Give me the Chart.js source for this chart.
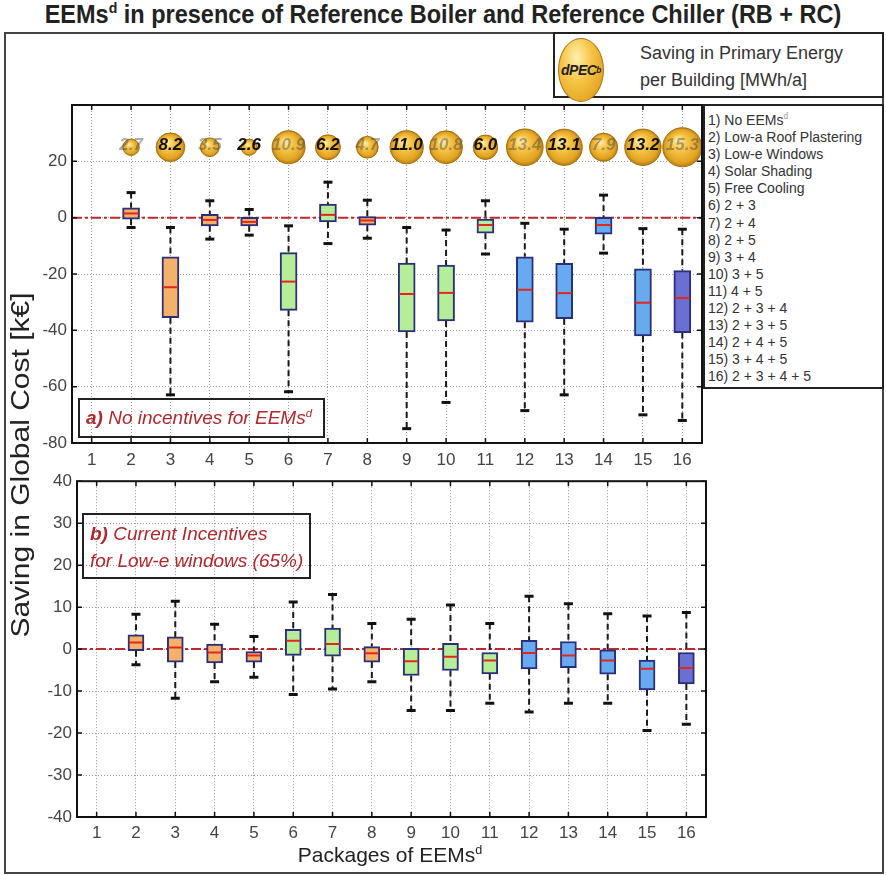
<!DOCTYPE html>
<html>
<head>
<meta charset="utf-8">
<script src="https://cdn.jsdelivr.net/npm/chart.js@4.4.1/dist/chart.umd.min.js"></script>
<style>
  html, body { margin: 0; padding: 0; background: #fff; }
  body { width: 886px; height: 875px; position: relative; overflow: hidden; font-family: 'Liberation Sans', Arial, sans-serif; color: #222; }
  canvas { position: absolute; z-index: 1; }
  .abs { position: absolute; z-index: 2; }
  sup { font-size: 60%; line-height: 0; }
  #title { left: 0; top: 1px; width: 886px; text-align: center; font-weight: bold; font-size: 23.5px; transform: scaleY(1.1); }
  #frame { left: 4px; top: 32px; width: 876px; height: 838px; border: 2px solid #444; z-index: 0; }
  #pecBox { left: 553px; top: 32px; width: 327px; height: 62px; border: 2px solid #222; background: #fff; }
  #pecBubble { position: absolute; left: 3px; top: 4px; width: 44px; height: 62px; border-radius: 50%;
    background: radial-gradient(ellipse at 40% 30%, #fff0b0 0%, #f6c445 40%, #e2a220 80%, #b47c12 100%);
    border: 1px solid #a8760e; font: italic bold 14px 'Liberation Sans', Arial, sans-serif; color: #222;
    display: flex; align-items: center; justify-content: center; letter-spacing: -0.5px; }
  #pecText { position: absolute; left: 85px; top: 6px; font-size: 18px; line-height: 27px; color: #333; }
  #listBox { left: 703px; top: 104px; width: 174px; height: 275px; border: 2px solid #222; background: #fff;
    padding: 6px 0 0 3px; font-size: 14px; line-height: 17.1px; color: #333; white-space: nowrap; overflow: hidden; }
  .note { border: 2px solid #222; color: #b3262b; font-style: italic; font-size: 19px; padding-left: 6px; box-sizing: border-box; }
  #noteA { left: 78px; top: 398px; width: 247px; height: 40px; line-height: 36px; }
  #noteB { left: 82px; top: 513px; width: 229px; height: 66px; line-height: 27px; padding-top: 5px; }
  #yTitle { left: -180px; top: 450px; width: 400px; height: 30px; line-height: 30px; text-align: center; font-size: 25px; color: #222;
    transform: rotate(-90deg) scale(1.2, 1); }
  #xTitle { left: 190px; top: 843px; width: 400px; text-align: center; font-size: 21px; color: #222; }
</style>
</head>
<body>
<div class="abs" id="title">EEMs<sup>d</sup> in presence of Reference Boiler and Reference Chiller (RB + RC)</div>
<div class="abs" id="frame"></div>
<div class="abs" id="pecBox"><div id="pecBubble">dPEC<sup>b</sup></div><div id="pecText">Saving in Primary Energy<br>per Building [MWh/a]</div></div>
<div class="abs" id="listBox"></div>
<canvas id="topChart" width="724" height="399" style="left:0;top:84px"></canvas>
<canvas id="bottomChart" width="720" height="409" style="left:0;top:466px"></canvas>
<div class="abs note" id="noteA"><b>a)</b> No incentives for EEMs<sup>d</sup></div>
<div class="abs note" id="noteB"><b>b)</b> Current Incentives<br>for Low-e windows (65%)</div>
<div class="abs" id="yTitle">Saving in Global Cost [k€]</div>
<div class="abs" id="xTitle">Packages of EEMs<sup>d</sup></div>
<script>
// packages of EEMs
const packages = [1, 2, 3, 4, 5, 6, 7, 8, 9, 10, 11, 12, 13, 14, 15, 16];
const packageNames = ['No EEMs', 'Low-a Roof Plastering', 'Low-e Windows', 'Solar Shading', 'Free Cooling',
  '2 + 3', '2 + 4', '2 + 5', '3 + 4', '3 + 5', '4 + 5', '2 + 3 + 4', '2 + 3 + 5', '2 + 4 + 5', '3 + 4 + 5', '2 + 3 + 4 + 5'];

// dPEC - saving in primary energy per building [MWh/a]
const dPEC = [null, 2.7, 8.2, 3.5, 2.6, 10.9, 6.2, 4.7, 11.0, 10.8, 6.0, 13.4, 13.1, 7.9, 13.2, 15.3];

// a) no incentives - saving in global cost [k€]
const aMin = [null, -3.5, -62.9, -7.6, -6.2, -61.8, -9.2, -7.3, -74.9, -65.6, -12.9, -68.5, -62.9, -12.6, -70.0, -72.0];
const aQ1  = [null, -0.5, -35.5, -2.9, -2.9, -32.9, -1.5, -2.7, -40.6, -36.7, -5.5, -37.1, -35.9, -5.9, -42.0, -40.8];
const aMed = [null, 1.5, -24.7, -0.8, -1.5, -22.7, 1.0, -1.0, -27.1, -26.7, -2.6, -25.6, -26.8, -2.6, -30.2, -28.5];
const aQ3  = [null, 3.5, -13.9, 1.2, 0.1, -12.4, 4.8, 0.4, -16.1, -16.8, -0.5, -13.9, -16.2, 0.1, -18.2, -18.8];
const aMax = [null, 8.9, -3.5, 6.0, 2.9, -2.9, 12.6, 6.2, -3.5, -4.4, 6.0, -2.0, -4.1, 8.0, -3.9, -4.1];

// b) current incentives for low-e windows (65%)
const bMin = [null, -3.7, -11.7, -7.8, -6.7, -10.8, -9.5, -7.8, -14.6, -14.6, -12.9, -15.0, -12.9, -12.9, -19.4, -17.9];
const bQ1  = [null, -0.4, -3.1, -3.3, -3.1, -1.5, -1.7, -3.1, -6.3, -5.1, -5.9, -4.7, -4.4, -6.0, -9.7, -8.3];
const bMed = [null, 1.6, 0.4, -0.8, -1.5, 2.0, 1.2, -1.0, -2.9, -1.8, -2.7, -0.9, -1.5, -2.7, -4.7, -4.5];
const bQ3  = [null, 3.4, 2.9, 1.2, -0.6, 4.7, 5.0, 0.6, 0.2, 1.4, -0.8, 2.1, 1.8, -0.2, -2.6, -0.8];
const bMax = [null, 8.3, 11.4, 5.9, 3.0, 11.2, 13.0, 6.1, 7.1, 10.5, 6.1, 12.6, 10.8, 8.4, 7.9, 8.7];

// box colours per package
const ORANGE = '#f5b06a', GREEN = '#b6ee98', BLUE = '#68aaf0', DARK = '#6b6fd0';
const boxFill = [null, ORANGE, ORANGE, ORANGE, ORANGE, GREEN, GREEN, ORANGE, GREEN, GREEN, GREEN, BLUE, BLUE, BLUE, BLUE, DARK];

const FONT = "'Liberation Sans', Arial, sans-serif";
const bubbleLevel = 25; // height of the dPEC row in panel a)

// legend list
document.getElementById('listBox').innerHTML = packageNames
  .map((n, i) => `${packages[i]}) ${n}` + (i === 0 ? '<sup style="color:#999">d</sup>' : ''))
  .join('<br>');

// frame, inward ticks and red dash-dot zero line
const framePlugin = {
  id: 'frame',
  beforeDatasetsDraw(chart) {
    const { ctx, chartArea: a, scales: { y } } = chart;
    const y0 = y.getPixelForValue(0);
    ctx.save();
    ctx.strokeStyle = '#c0282d';
    ctx.lineWidth = 2;
    ctx.setLineDash([10, 3, 3, 3]);
    ctx.beginPath();
    ctx.moveTo(a.left, y0);
    ctx.lineTo(a.right, y0);
    ctx.stroke();
    ctx.restore();
  },
  afterDraw(chart) {
    const { ctx, chartArea: a, scales: { x, y } } = chart;
    ctx.save();
    ctx.strokeStyle = '#111';
    ctx.lineWidth = 1.5;
    ctx.beginPath();
    x.ticks.forEach(t => {
      const px = x.getPixelForValue(t.value);
      ctx.moveTo(px, a.bottom); ctx.lineTo(px, a.bottom - 5);
      ctx.moveTo(px, a.top); ctx.lineTo(px, a.top + 5);
    });
    y.ticks.forEach(t => {
      const py = y.getPixelForValue(t.value);
      ctx.moveTo(a.left, py); ctx.lineTo(a.left + 5, py);
      ctx.moveTo(a.right, py); ctx.lineTo(a.right - 5, py);
    });
    ctx.stroke();
    ctx.lineWidth = 2;
    ctx.strokeRect(a.left, a.top, a.right - a.left, a.bottom - a.top);
    ctx.restore();
  }
};

// dPEC numbers on the bubbles
const bubbleLabels = {
  id: 'bubbleLabels',
  afterDatasetsDraw(chart) {
    const idx = chart.data.datasets.findIndex(d => d.type === 'bubble');
    if (idx < 0) return;
    const meta = chart.getDatasetMeta(idx);
    const ctx = chart.ctx;
    ctx.save();
    ctx.font = `italic bold 17px ${FONT}`;
    ctx.textAlign = 'center';
    ctx.textBaseline = 'middle';
    meta.data.forEach((el, i) => {
      ctx.fillStyle = i % 2 === 0 ? 'rgba(70,70,70,0.45)' : '#111';
      ctx.fillText(chart.data.datasets[idx].data[i].v.toFixed(1), el.x, el.y - 2);
    });
    ctx.restore();
  }
};

function makePanel(id, stats, opt) {
  const [mins, q1, med, q3, maxs] = stats;
  const boxes = [], colors = [], medians = [], stems = [], caps = [];
  packages.forEach((p, i) => {
    if (med[i] === null) return;
    boxes.push({ x: p, y: [q1[i], q3[i]] });
    colors.push(boxFill[i]);
    medians.push({ x: p, y: med[i] });
    stems.push({ x: p, y: maxs[i] }, { x: p, y: q3[i] }, { x: p, y: null },
               { x: p, y: q1[i] }, { x: p, y: mins[i] }, { x: p, y: null });
    caps.push({ x: p, y: maxs[i] }, { x: p, y: mins[i] });
  });

  const datasets = [
    { type: 'line', data: stems, borderColor: '#1a1a1a', borderWidth: 2, borderDash: [6, 4],
      pointRadius: 0, spanGaps: false, fill: false, order: 5 },
    { type: 'bar', data: boxes, backgroundColor: colors, borderColor: '#2a2f7c', borderWidth: 2,
      borderSkipped: false, barThickness: opt.boxWidth, grouped: false, order: 4 },
    { type: 'scatter', data: caps, pointStyle: 'line', pointRadius: 4.5, borderWidth: 3,
      borderColor: '#111', order: 3 },
    { type: 'scatter', data: medians, pointStyle: 'line', pointRadius: opt.boxWidth / 2 - 1,
      borderWidth: 2, borderColor: '#e3261c', order: 2 }
  ];

  if (opt.bubbles) {
    datasets.push({
      type: 'bubble',
      data: packages.map((p, i) => dPEC[i] === null ? null : { x: p, y: bubbleLevel, r: 5 * Math.sqrt(dPEC[i]), v: dPEC[i] })
        .filter(d => d),
      borderColor: '#a0700c',
      borderWidth: 1,
      backgroundColor(c) {
        if (c.type !== 'data' || !c.raw) return '#f2b632';
        const { x, y } = c.chart.scales;
        const px = x.getPixelForValue(c.raw.x), py = y.getPixelForValue(c.raw.y), r = c.raw.r;
        if (![px, py, r].every(Number.isFinite)) return '#f2b632';
        const g = c.chart.ctx.createRadialGradient(px - r * 0.25, py - r * 0.4, 0, px, py, r);
        g.addColorStop(0, '#fff2b8');
        g.addColorStop(0.4, '#f7c647');
        g.addColorStop(0.85, '#e2a222');
        g.addColorStop(1, '#b67e12');
        return g;
      },
      order: 1
    });
  }

  const tickFont = { size: 17, family: FONT };
  return new Chart(document.getElementById(id), {
    type: 'scatter',
    data: { datasets },
    options: {
      responsive: false,
      animation: false,
      events: [],
      layout: { padding: opt.padding },
      plugins: { legend: { display: false }, tooltip: { enabled: false } },
      scales: {
        x: {
          type: 'linear', min: 0.5, max: 16.5, offset: false,
          afterBuildTicks: s => { s.ticks = packages.map(v => ({ value: v })); },
          afterFit: s => { s.height = 26; },
          grid: { color: '#9a9a9a', lineWidth: 1, drawTicks: false, offset: false },
          border: { display: false, dash: [1, 2] },
          ticks: { padding: opt.xPad, color: '#444', font: tickFont, autoSkip: false, maxRotation: 0 }
        },
        y: {
          type: 'linear', min: opt.yMin, max: opt.yMax,
          afterFit: s => { s.width = 44; },
          grid: { color: '#9a9a9a', lineWidth: 1, drawTicks: false },
          border: { display: false, dash: [1, 2] },
          ticks: { stepSize: opt.yStep, padding: 5, color: '#444', font: tickFont,
                   callback: v => opt.hideTop && v === opt.yMax ? '' : v }
        }
      }
    },
    plugins: [framePlugin, bubbleLabels]
  });
}

makePanel('topChart', [aMin, aQ1, aMed, aQ3, aMax], {
  yMin: -80, yMax: 40, yStep: 20, hideTop: true, boxWidth: 17, bubbles: true, xPad: 7,
  padding: { left: 28, top: 21, right: 22, bottom: 14 }
});

makePanel('bottomChart', [bMin, bQ1, bMed, bQ3, bMax], {
  yMin: -40, yMax: 40, yStep: 10, hideTop: false, boxWidth: 16, bubbles: false, xPad: 6,
  padding: { left: 33, top: 12, right: 14, bottom: 32 }
});
</script>
</body>
</html>
